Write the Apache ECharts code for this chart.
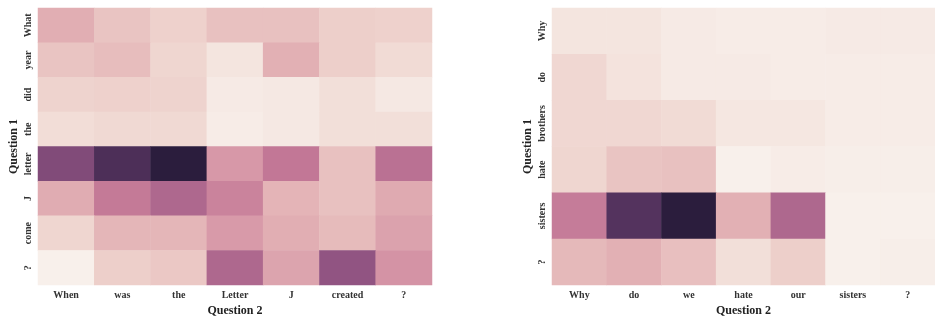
<!DOCTYPE html>
<html>
<head>
<meta charset="utf-8">
<script src="https://cdn.jsdelivr.net/npm/echarts@6/dist/echarts.min.js"></script>
<style>
  html, body { margin: 0; padding: 0; background: #fff; }
  #chart { width: 935px; height: 322px; }
</style>
</head>
<body>
<div id="chart"></div>
<script>
// left heatmap
const leftX = ["When", "was", "the", "Letter", "J", "created", "?"];
const leftY = ["What", "year", "did", "the", "letter", "J", "come", "?"];
const leftValues = [
  [0.32, 0.22, 0.16, 0.23, 0.23, 0.17, 0.16],
  [0.22, 0.25, 0.14, 0.06, 0.31, 0.17, 0.11],
  [0.15, 0.16, 0.15, 0.03, 0.04, 0.09, 0.04],
  [0.10, 0.12, 0.12, 0.02, 0.04, 0.09, 0.09],
  [0.77, 0.90, 1.00, 0.43, 0.57, 0.23, 0.60],
  [0.33, 0.56, 0.64, 0.52, 0.29, 0.23, 0.34],
  [0.14, 0.28, 0.28, 0.42, 0.32, 0.26, 0.38],
  [0.00, 0.17, 0.20, 0.64, 0.37, 0.73, 0.45]
];

// right heatmap
const rightX = ["Why", "do", "we", "hate", "our", "sisters", "?"];
const rightY = ["Why", "do", "brothers", "hate", "sisters", "?"];
const rightValues = [
  [0.06, 0.06, 0.03, 0.02, 0.02, 0.03, 0.03],
  [0.13, 0.07, 0.03, 0.03, 0.02, 0.02, 0.02],
  [0.13, 0.13, 0.11, 0.05, 0.05, 0.02, 0.02],
  [0.14, 0.22, 0.23, 0.00, 0.02, 0.01, 0.01],
  [0.55, 0.88, 1.00, 0.31, 0.64, 0.00, 0.00],
  [0.27, 0.31, 0.24, 0.09, 0.17, 0.00, 0.01]
];

const palette = ["#f8f0eb", "#efd5cf", "#e4b5b7", "#d798a8", "#c27796", "#985886", "#5c3764", "#2b1d3d"];

const toCells = (rows) => {
  const out = [];
  rows.forEach((row, yi) => row.forEach((v, xi) => out.push([xi, yi, v])));
  return out;
};

const font = "'Liberation Serif', 'DejaVu Serif', serif";

const xAxisFor = (data, gridIndex) => ({
  type: "category",
  gridIndex: gridIndex,
  data: data,
  name: "Question 2",
  nameLocation: "middle",
  nameGap: 16,
  nameTextStyle: { fontFamily: font, fontWeight: "bold", fontSize: 12, color: "#222" },
  axisLine: { show: false },
  axisTick: { show: false },
  splitArea: { show: false },
  axisLabel: { interval: 0, fontFamily: font, fontWeight: "bold", fontSize: 10, color: "#333", margin: 5 }
});

const yAxisFor = (data, gridIndex) => ({
  type: "category",
  gridIndex: gridIndex,
  data: data,
  inverse: true,
  name: "Question 1",
  nameLocation: "middle",
  nameGap: 18,
  nameTextStyle: { fontFamily: font, fontWeight: "bold", fontSize: 12, color: "#222" },
  axisLine: { show: false },
  axisTick: { show: false },
  splitArea: { show: false },
  axisLabel: { interval: 0, fontFamily: font, fontWeight: "bold", fontSize: 10, color: "#333", rotate: 90, margin: 5 }
});

const chart = echarts.init(document.getElementById("chart"));
const option = {
  animation: false,
  grid: [
    { left: 38, top: 8, width: 394, height: 285 },
    { left: 552, top: 8, width: 392, height: 285 }
  ],
  xAxis: [xAxisFor(leftX, 0), xAxisFor(rightX, 1)],
  yAxis: [yAxisFor(leftY, 0), yAxisFor(rightY, 1)],
  visualMap: [
    { show: false, seriesIndex: 0, min: 0, max: 1, inRange: { color: palette } },
    { show: false, seriesIndex: 1, min: 0, max: 1, inRange: { color: palette } }
  ],
  series: [
    { type: "heatmap", xAxisIndex: 0, yAxisIndex: 0, data: toCells(leftValues) },
    { type: "heatmap", xAxisIndex: 1, yAxisIndex: 1, data: toCells(rightValues) }
  ]
};
chart.setOption(option);
</script>
</body>
</html>
